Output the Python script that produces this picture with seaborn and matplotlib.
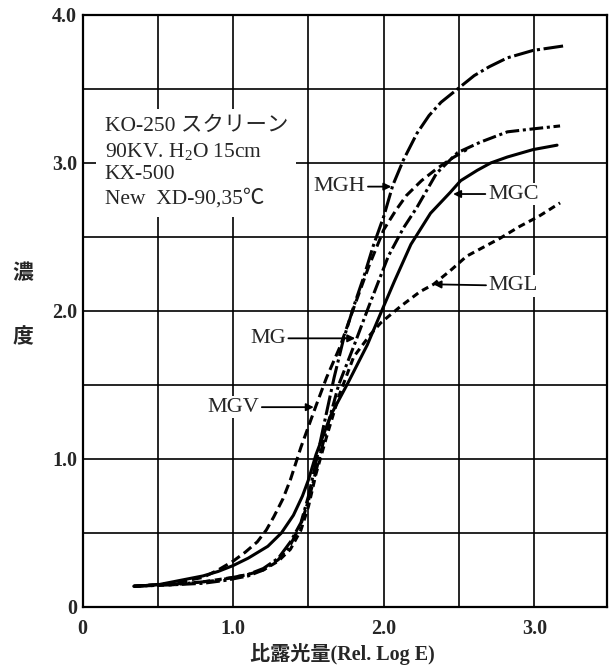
import numpy as np
import pandas as pd
import matplotlib
matplotlib.use("Agg")
import matplotlib.pyplot as plt
import seaborn as sns

# characteristic curves (Rel. Log E -> density)
mgh_x = [0.34, 0.50, 0.70, 0.90, 1.00, 1.10, 1.20, 1.30, 1.38, 1.45, 1.50, 1.55, 1.60, 1.67, 1.73,
         1.80, 1.87, 1.93, 2.00, 2.06, 2.13, 2.22, 2.30, 2.38, 2.49, 2.60, 2.70, 2.82, 2.99, 3.19]
mgh_y = [0.14, 0.15, 0.16, 0.18, 0.20, 0.22, 0.26, 0.33, 0.44, 0.57, 0.75, 0.98, 1.22, 1.55, 1.80,
         2.03, 2.24, 2.44, 2.64, 2.85, 3.02, 3.20, 3.32, 3.41, 3.50, 3.59, 3.65, 3.71, 3.76, 3.79]

mg_x = [0.34, 0.60, 0.80, 0.95, 1.10, 1.20, 1.30, 1.38, 1.45, 1.50, 1.55, 1.62, 1.70, 1.80,
        1.90, 2.03, 2.13, 2.22, 2.35, 2.49, 2.64, 2.82, 2.99, 3.17]
mg_y = [0.14, 0.15, 0.16, 0.18, 0.21, 0.25, 0.32, 0.42, 0.56, 0.72, 0.92, 1.20, 1.50, 1.76,
        2.03, 2.37, 2.56, 2.70, 2.93, 3.07, 3.14, 3.21, 3.23, 3.25]

mgv_x = [0.34, 0.60, 0.80, 0.90, 1.00, 1.08, 1.16, 1.22, 1.27, 1.33, 1.38, 1.45, 1.50, 1.55, 1.62,
         1.71, 1.80, 1.90, 2.00, 2.08, 2.15, 2.25, 2.35, 2.45, 2.55]
mgv_y = [0.14, 0.16, 0.20, 0.25, 0.31, 0.37, 0.44, 0.52, 0.61, 0.73, 0.86, 1.08, 1.22, 1.36, 1.55,
         1.76, 2.02, 2.30, 2.55, 2.68, 2.78, 2.88, 2.96, 3.03, 3.09]

mgc_x = [0.34, 0.50, 0.65, 0.80, 0.90, 1.00, 1.10, 1.23, 1.32, 1.40, 1.46, 1.50, 1.55, 1.65, 1.76,
         1.89, 1.99, 2.07, 2.18, 2.31, 2.44, 2.51, 2.62, 2.71, 2.82, 2.99, 3.15]
mgc_y = [0.14, 0.15, 0.18, 0.21, 0.24, 0.28, 0.33, 0.41, 0.50, 0.62, 0.75, 0.86, 1.03, 1.30, 1.51,
         1.77, 2.01, 2.20, 2.45, 2.66, 2.80, 2.88, 2.95, 3.00, 3.04, 3.09, 3.12]

mgl_x = [0.34, 0.60, 0.80, 1.00, 1.10, 1.20, 1.30, 1.38, 1.45, 1.50, 1.55, 1.62, 1.70, 1.80,
         1.91, 1.98, 2.11, 2.24, 2.33, 2.45, 2.55, 2.66, 2.77, 2.90, 3.03, 3.17]
mgl_y = [0.14, 0.15, 0.17, 0.20, 0.22, 0.25, 0.31, 0.39, 0.52, 0.68, 0.90, 1.15, 1.42, 1.69,
         1.84, 1.92, 2.03, 2.13, 2.18, 2.28, 2.37, 2.43, 2.49, 2.57, 2.64, 2.73]

x_ticks = [0, 0.5, 1.0, 1.5, 2.0, 2.5, 3.0]
x_ticklabels = ["0", "", "1.0", "", "2.0", "", "3.0"]
y_ticks = [0, 0.5, 1.0, 1.5, 2.0, 2.5, 3.0, 3.5, 4.0]
y_ticklabels = ["0", "", "1.0", "", "2.0", "", "3.0", "", "4.0"]

info_lines = ["KO-250 スクリーン", "90KV. H$_2$O 15cm", "KX-500", "New  XD-90,35℃"]

frames = []
for name, xs, ys in [("MGH", mgh_x, mgh_y), ("MG", mg_x, mg_y), ("MGV", mgv_x, mgv_y),
                     ("MGC", mgc_x, mgc_y), ("MGL", mgl_x, mgl_y)]:
    frames.append(pd.DataFrame({"logE": xs, "density": ys, "film": name}))
df = pd.concat(frames, ignore_index=True)

sns.set_style("white")
serif = ["Liberation Serif", "Noto Sans CJK JP", "DejaVu Serif"]
plt.rcParams["font.family"] = serif
plt.rcParams["mathtext.fontset"] = "custom"
plt.rcParams["mathtext.rm"] = "Liberation Serif"
plt.rcParams["mathtext.it"] = "Liberation Serif"

fig = plt.figure(figsize=(6.16, 6.69), dpi=100)
ax = fig.add_axes([0.134, 0.0927, 0.851, 0.885])

dash_map = {"MGH": (6.5, 1.2, 1.0, 1.2), "MG": (4.5, 1.2, 1.0, 1.2), "MGV": (3.2, 1.6),
            "MGC": "", "MGL": (2.3, 1.5)}
sns.lineplot(data=df, x="logE", y="density", style="film", dashes=dash_map,
             color="black", linewidth=2.2, sort=False, legend=False, ax=ax, zorder=3)

ax.set_xlim(0, 3.48)
ax.set_ylim(0, 4.0)
ax.set_xticks(x_ticks)
ax.set_xticklabels(x_ticklabels)
ax.set_yticks(y_ticks)
ax.set_yticklabels(y_ticklabels)
ax.grid(True, color="black", linewidth=1.2)
ax.tick_params(length=0)
ax.tick_params(axis="x", pad=9)
ax.tick_params(axis="y", pad=4)
for lab in ax.get_xticklabels() + ax.get_yticklabels():
    lab.set_fontweight("bold")
    lab.set_fontsize(14.5)
    lab.set_family(serif)
for sp in ax.spines.values():
    sp.set_color("black")
    sp.set_linewidth(1.6)
ax.set_xlabel("")
ax.set_ylabel("")

ax.text(0.146, 3.31, "\n".join(info_lines), ha="left", va="top", fontsize=15.5,
        linespacing=1.28, family=serif, zorder=4,
        bbox=dict(facecolor="white", edgecolor="none", pad=6))

arrow = dict(arrowstyle="-|>", color="black", lw=1.3, mutation_scale=11,
             shrinkA=1, shrinkB=0)
lbl = dict(fontsize=16, ha="center", va="center", family=serif, zorder=5,
           bbox=dict(facecolor="white", edgecolor="none", pad=1))
ax.annotate("MGH", xy=(2.05, 2.84), xytext=(1.705, 2.84), arrowprops=arrow, **lbl)
ax.annotate("MGC", xy=(2.46, 2.79), xytext=(2.86, 2.79), arrowprops=arrow, **lbl)
ax.annotate("MGL", xy=(2.33, 2.18), xytext=(2.86, 2.17), arrowprops=arrow, **lbl)
ax.annotate("MG", xy=(1.81, 1.815), xytext=(1.23, 1.815), arrowprops=arrow, **lbl)
ax.annotate("MGV", xy=(1.535, 1.35), xytext=(1.0, 1.35), arrowprops=arrow, **lbl)

fig.text(0.0373, 0.592, "濃", ha="center", va="center", fontsize=15,
         fontweight="bold", family=["Noto Sans CJK JP"])
fig.text(0.0373, 0.496, "度", ha="center", va="center", fontsize=15,
         fontweight="bold", family=["Noto Sans CJK JP"])
fig.text(0.555, 0.022, "比露光量(Rel. Log E)", ha="center", va="center", fontsize=14.5,
         fontweight="bold", family=serif)

fig.savefig("out.png", dpi=100)
